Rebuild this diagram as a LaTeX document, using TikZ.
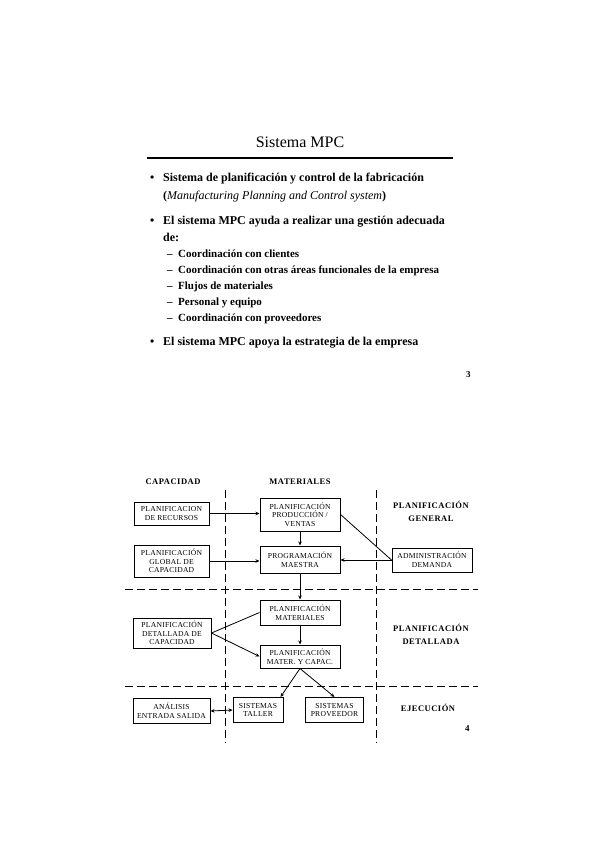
\documentclass[tikz,border=0pt]{standalone}
\usepackage{fontspec}
\setmainfont{Liberation Serif}
\newfontfamily\cajafont[LetterSpace=3]{Liberation Serif}
\newfontfamily\titfont[LetterSpace=6]{Liberation Serif}
\usetikzlibrary{arrows.meta}

\tikzset{
  caja/.style={shape=rectangle, draw, line width=1pt, fill=white, align=center, inner sep=1pt,
    font=\cajafont\fontsize{7.6}{8.6}\selectfont},
  flecha/.style={-{Stealth[length=4pt,width=3.5pt]}, line width=0.8pt},
  linea/.style={line width=0.8pt},
  corte/.style={dash pattern=on 8pt off 4pt, line width=0.9pt},
  texto/.style={anchor=base west, inner sep=0pt},
  cabecera/.style={align=center, inner sep=0pt, font=\titfont\bfseries\fontsize{8.5}{13}\selectfont},
}

\begin{document}
\begin{tikzpicture}[x=1pt, y=-1pt]
  \useasboundingbox (0,0) rectangle (599,848);

  % pagina 3
  \node[inner sep=0pt, anchor=base, font=\fontsize{16}{18}\selectfont] (titulo) at (300, 147) {Sistema MPC};
  \coordinate (r1) at (147, 158);
  \coordinate (r2) at (453, 158);
  \draw[line width=2pt] (r1) -- (r2);

  \begin{scope}[font=\bfseries\fontsize{12}{14}\selectfont]
    \node[texto] (p1) at (150, 181) {\textbullet};
    \node[texto] (t1) at (163, 181) {Sistema de planificación y control de la fabricación};
    \node[texto] (t1b) at (163, 199) {(\textit{\mdseries Manufacturing Planning and Control system})};
    \node[texto] (p2) at (150, 224) {\textbullet};
    \node[texto] (t2) at (163, 224) {El sistema MPC ayuda a realizar una gestión adecuada};
    \node[texto] (t2b) at (163, 241) {de:};
    \node[texto] (p3) at (150, 345) {\textbullet};
    \node[texto] (t3) at (163, 345) {El sistema MPC apoya la estrategia de la empresa};
  \end{scope}

  \begin{scope}[font=\bfseries\fontsize{11}{12}\selectfont]
    \foreach \y/\txt [count=\i] in {257/Coordinación con clientes,
        273/Coordinación con otras áreas funcionales de la empresa,
        289/Flujos de materiales,
        305/Personal y equipo,
        321/Coordinación con proveedores} {
      \node[texto] (g\i) at (167, \y) {--};
      \node[texto] (s\i) at (178, \y) {\txt};
    }
  \end{scope}
  \node[texto, font=\bfseries\fontsize{9}{10}\selectfont] (n3) at (466, 377) {3};

  % pagina 4
  \coordinate (v1a) at (225, 490);
  \coordinate (v1b) at (225, 743);
  \coordinate (v2a) at (376, 490);
  \coordinate (v2b) at (376, 743);
  \coordinate (h1a) at (125, 589);
  \coordinate (h1b) at (478, 589);
  \coordinate (h2a) at (125, 686);
  \coordinate (h2b) at (478, 686);
  \draw[corte] (v1a) -- (v1b);
  \draw[corte] (v2a) -- (v2b);
  \draw[corte] (h1a) -- (h1b);
  \draw[corte] (h2a) -- (h2b);

  \node[cabecera] (capacidad) at (173, 482) {CAPACIDAD};
  \node[cabecera] (materiales) at (300, 482) {MATERIALES};
  \node[cabecera] (general) at (431, 511) {PLANIFICACIÓN\\GENERAL};
  \node[cabecera] (detallada) at (431, 634) {PLANIFICACIÓN\\DETALLADA};
  \node[cabecera] (ejecucion) at (428, 708) {EJECUCIÓN};
  \node[texto, font=\bfseries\fontsize{9}{10}\selectfont] (n4) at (465, 731) {4};

  \node[caja, minimum width=75pt, minimum height=23pt] (rec) at (171.5, 513.5) {PLANIFICACION\\DE RECURSOS};
  \node[caja, minimum width=75pt, minimum height=32pt] (glob) at (171.5, 561) {PLANIFICACIÓN\\GLOBAL DE\\CAPACIDAD};
  \node[caja, minimum width=80pt, minimum height=33pt] (prodv) at (300, 514.5) {PLANIFICACIÓN\\PRODUCCIÓN /\\VENTAS};
  \node[caja, minimum width=80pt, minimum height=27pt] (prog) at (300, 559.5) {PROGRAMACIÓN\\MAESTRA};
  \node[caja, minimum width=80pt, minimum height=24pt] (admin) at (432, 560) {ADMINISTRACIÓN\\DEMANDA};
  \node[caja, minimum width=78pt, minimum height=30pt] (det) at (172, 633) {PLANIFICACIÓN\\DETALLADA DE\\CAPACIDAD};
  \node[caja, minimum width=80pt, minimum height=25pt] (mat) at (300, 612.5) {PLANIFICACIÓN\\MATERIALES};
  \node[caja, minimum width=80pt, minimum height=23pt] (matcap) at (300, 656.5) {PLANIFICACIÓN\\MATER. Y CAPAC.};
  \node[caja, minimum width=77pt, minimum height=25pt] (anal) at (171.5, 711) {ANÁLISIS\\ENTRADA SALIDA};
  \node[caja, minimum width=50pt, minimum height=25pt] (taller) at (258, 710) {SISTEMAS\\TALLER};
  \node[caja, minimum width=58pt, minimum height=25pt] (prov) at (334.5, 710) {SISTEMAS\\PROVEEDOR};

  \draw[flecha] (rec.east) -- (rec.east -| prodv.west);
  \draw[flecha] (glob.east) -- (glob.east -| prog.west);
  \draw[flecha] (prodv.south) -- (prog.north);
  \draw[linea] (prodv.east) -- (admin.west);
  \draw[flecha] (admin.west) -- (admin.west -| prog.east);
  \draw[flecha] (prog.south) -- (mat.north);
  \draw[linea] (det.east) -- (mat.west);
  \draw[flecha] (det.east) -- (matcap.west);
  \draw[flecha] (mat.south) -- (matcap.north);
  \draw[flecha] (matcap.south) -- (taller.30);
  \draw[flecha] (matcap.south) -- (prov.north);
  \draw[flecha, {Stealth[length=4pt,width=3.5pt]}-{Stealth[length=4pt,width=3.5pt]}] (anal.east) -- (taller.west);
\end{tikzpicture}
\end{document}
